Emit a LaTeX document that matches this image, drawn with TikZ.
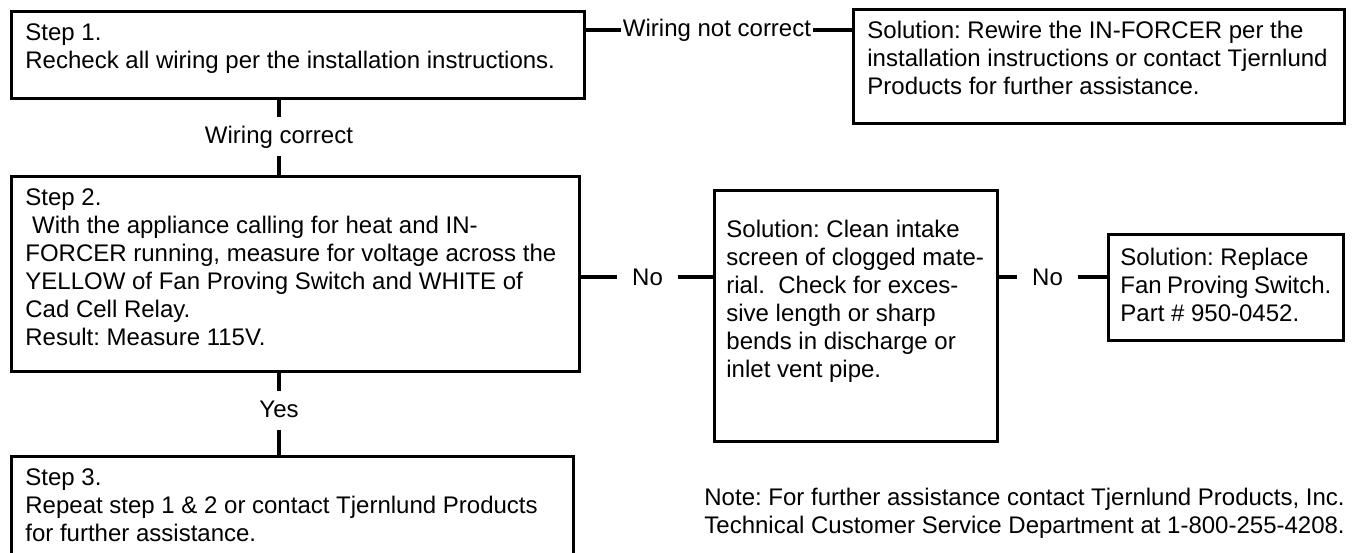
\documentclass[tikz,border=0pt]{standalone}
\usepackage{fontspec}
\setmainfont{Liberation Sans}
\frenchspacing

\begin{document}
\begin{tikzpicture}[x=0.5pt, y=-0.5pt,
  every node/.style={font=\fontsize{12}{14}\selectfont},
  stepbox/.style={draw, line width=1.4pt, anchor=north west, inner xsep=7pt, inner ysep=6pt},
  link/.style={line width=1.6pt},
  hlabel/.style={inner xsep=1pt, inner ysep=2pt},
  nolabel/.style={inner xsep=7.5pt, inner ysep=2pt},
  vlabel/.style={inner xsep=2pt, inner ysep=4pt, text height=9pt, text depth=2.5pt}]
  \clip (0,0) rectangle (1352,552);

  % Step 1 and its solution
  \node[stepbox] (step1) at (10,10)
    {\parbox[c][31.5pt][t]{272.5pt}{Step 1.\\Recheck all wiring per the installation instructions.}};
  \node[stepbox] (sol1) at (852,8)
    {\parbox[c][45pt][t]{231.5pt}{Solution: Rewire the IN-FORCER per the\\installation instructions or contact Tjernlund\\Products for further assistance.}};
  \node[hlabel] (notok) at (717,30) {Wiring not correct};
  \draw[link] (step1.east |- notok.west) -- (notok.west);
  \draw[link] (notok.east) -- (sol1.west |- notok.east);

  % Step 2
  \node[vlabel] (ok) at (279,136.5) {Wiring correct};
  \draw[link] (step1.south -| ok.north) -- (ok.north);
  \node[stepbox] (step2) at (10,175)
    {\parbox[c][85.5pt][t]{270pt}{Step 2.\\\hspace*{0.28em}With the appliance calling for heat and IN-\\FORCER running, measure for voltage across the\\YELLOW of Fan Proving Switch and WHITE of\\Cad Cell Relay.\\Result: Measure 115V.}};
  \draw[link] (ok.south) -- (step2.north -| ok.south);

  % Solutions when no voltage
  \node[stepbox, inner xsep=6pt, inner ysep=15pt] (clean) at (713,189)
    {\parbox[c][95.5pt][t]{129.5pt}{Solution: Clean intake\\screen of clogged mate-\\rial.~ Check for exces-\\sive length or sharp\\bends in discharge or\\inlet vent pipe.}};
  \node[nolabel] (no1) at (647.5,277) {No};
  \draw[link] (step2.east |- no1.west) -- (no1.west);
  \draw[link] (no1.east) -- (clean.west |- no1.east);

  \node[stepbox, inner xsep=6pt, inner ysep=7pt] (switch) at (1107,233)
    {\parbox[c][39pt][t]{105.5pt}{Solution: Replace\\Fan Proving Switch.\\Part \# 950-0452.}};
  \node[nolabel] (no2) at (1047.5,277) {No};
  \draw[link] (clean.east |- no2.west) -- (no2.west);
  \draw[link] (no2.east) -- (switch.west |- no2.east);

  % Step 3
  \node[vlabel] (yes) at (279,410.5) {Yes};
  \draw[link] (step2.south -| yes.north) -- (yes.north);
  \node[stepbox] (step3) at (10,455)
    {\parbox[c][45.5pt][t]{267pt}{Step 3.\\Repeat step 1 \& 2 or contact Tjernlund Products\\for further assistance.}};
  \draw[link] (yes.south) -- (step3.north -| yes.south);

  % Note
  \node[anchor=north west, inner sep=0pt, align=left] (note) at (704,488)
    {Note: For further assistance contact Tjernlund Products, Inc.\\Technical Customer Service Department at 1-800-255-4208.};
\end{tikzpicture}
\end{document}
